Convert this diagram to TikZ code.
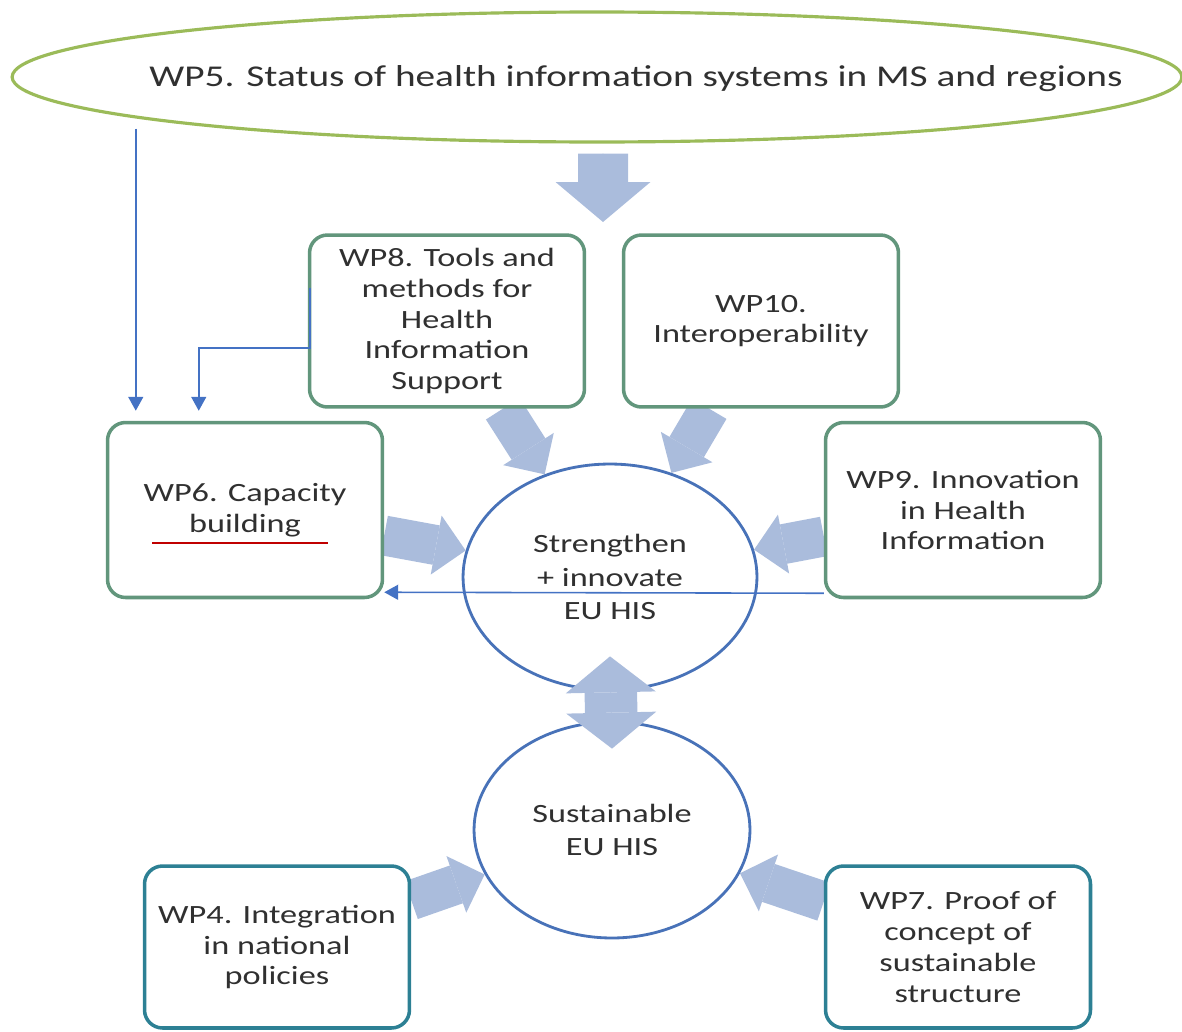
\documentclass[tikz,border=0pt]{standalone}
\usepackage{fontspec}
\setmainfont{Carlito}[FakeStretch=1.3]
\usetikzlibrary{shapes.geometric, arrows.meta, positioning, backgrounds}

\definecolor{wpgreen}{RGB}{98,150,124}
\definecolor{wpteal}{RGB}{45,128,148}
\definecolor{hisblue}{RGB}{72,114,184}
\definecolor{flowblue}{RGB}{170,188,220}
\definecolor{linkblue}{RGB}{68,114,196}
\definecolor{wpolive}{RGB}{155,187,89}
\definecolor{inkgray}{RGB}{48,48,48}
\definecolor{spellred}{RGB}{192,0,0}

\begin{document}
\begin{tikzpicture}[
    x=0.02cm, y=-0.02cm,
    every node/.style={font=\fontsize{15}{17.5}\selectfont, text=inkgray},
    wpbox/.style={rectangle, draw=wpgreen, line width=2pt, rounded corners=0.36cm, fill=white, align=center, minimum width=5.5cm, minimum height=3.44cm},
    lowbox/.style={wpbox, draw=wpteal, minimum width=5.3cm, minimum height=3.24cm},
    his/.style={ellipse, draw=hisblue, line width=1.6pt, fill=white, align=center, inner sep=0pt, font=\fontsize{15}{19}\selectfont},
    flow/.style={draw=flowblue, line width=0.8cm, -{Triangle[length=0.6cm, width=1.2cm, line width=0pt]},
        preaction={draw=flowblue, -, shorten >=0.42cm}},
    bigflow/.style={draw=flowblue, line width=1cm, -{Triangle[length=0.8cm, width=1.9cm, line width=0pt]},
        preaction={draw=flowblue, -, shorten >=0.5cm}},
    twoway/.style={draw=flowblue, line width=1.05cm, {Triangle[length=0.72cm, width=1.8cm, line width=0pt]}-{Triangle[length=0.72cm, width=1.8cm, line width=0pt]},
        preaction={draw=flowblue, -, shorten <=0.45cm, shorten >=0.45cm}},
    link/.style={draw=linkblue, line width=0.9pt, -{Triangle[length=0.28cm, width=0.3cm]}}
]
    \useasboundingbox (0,0) rectangle (1182,1031);

    % status survey on top
    \node[ellipse, draw=wpolive, line width=1.8pt, minimum width=23.4cm, minimum height=2.6cm] (wp5) at (597,77) {};
    \node[font=\fontsize{17.2}{20}\selectfont] (wp5label) at (636,79) {WP5. Status of health information systems in MS and regions};
    \coordinate (hub) at (603,222);

    % work packages around the EU HIS
    \node[wpbox] (wp8) at (447,321) {WP8. Tools and\\methods for\\Health\\Information\\Support};
    \node[wpbox] (wp10) at (761,321) {WP10.\\Interoperability};
    \node[wpbox, minimum height=3.5cm] (wp6) at (245,510) {WP6. Capacity\\building};
    \node[wpbox, minimum height=3.5cm] (wp9) at (963,510) {WP9. Innovation\\in Health\\Information};
    \node[his, minimum width=5.88cm, minimum height=4.52cm] (c1) at (610,577) {Strengthen\\+ innovate\\EU HIS};
    \node[his, minimum width=5.52cm, minimum height=4.32cm] (c2) at (612,830) {Sustainable\\EU HIS};
    \node[lowbox] (wp4) at (277,947) {WP4. Integration\\in national\\policies};
    \node[lowbox] (wp7) at (958,947) {WP7. Proof of\\concept of\\sustainable\\structure};

    \begin{scope}[on background layer]
        \draw[bigflow] ([xshift=0.12cm, yshift=-0.2cm]wp5.south) -- (hub);
        \draw[flow] (wp8) -- (c1);
        \draw[flow] (wp10) -- (c1);
        \draw[flow] (wp6) -- (c1);
        \draw[flow] (wp9) -- (c1);
        \draw[flow] (wp4) -- (c2);
        \draw[flow] (wp7) -- (c2);
    \end{scope}
    \draw[twoway] ([yshift=0.7cm]c1.south) -- ([yshift=-0.56cm]c2.north);

    % thin feedback links into WP6
    \coordinate (wp6in1) at ([xshift=0.6cm, yshift=0.2cm]wp6.north west);
    \coordinate (wp6in2) at ([xshift=1.86cm, yshift=0.2cm]wp6.north west);
    \draw[link] ([yshift=0.3cm]wp5.south -| wp6in1) -- (wp6in1);
    \draw[link] ([xshift=0.04cm, yshift=0.66cm]wp8.west) |- ([yshift=1.26cm]wp6in2) -- (wp6in2);
    \draw[link] ([yshift=0.12cm]wp9.south west) -- ([yshift=0.14cm]wp6.south east);

    \draw[spellred, line width=0.9pt] (152,543) -- (328,543);
\end{tikzpicture}
\end{document}
